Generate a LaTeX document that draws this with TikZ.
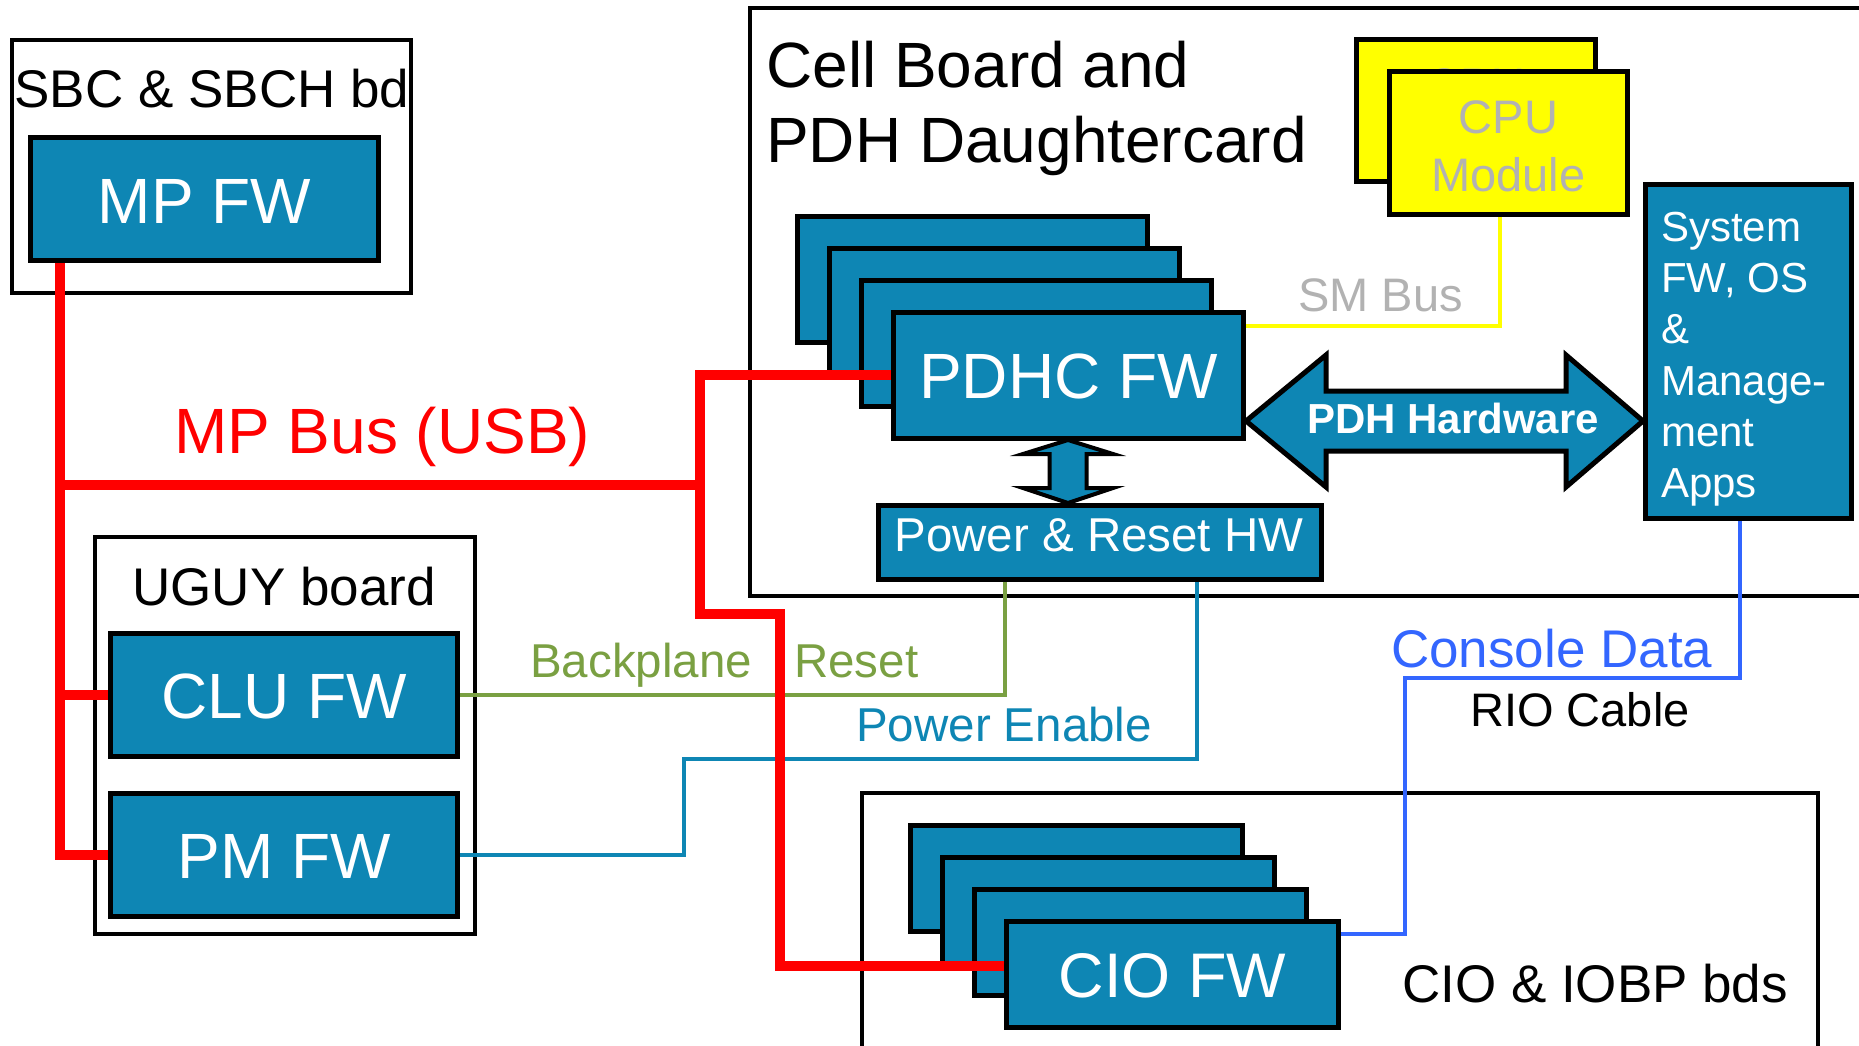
\documentclass[tikz,border=0pt]{standalone}
\usepackage{fontspec}
\setmainfont{Liberation Sans}
\definecolor{fwblue}{RGB}{14,134,180}
\definecolor{busred}{RGB}{255,0,0}
\definecolor{bpgreen}{RGB}{122,160,66}
\definecolor{conblue}{RGB}{51,102,255}
\definecolor{cpugray}{RGB}{178,178,178}
\definecolor{cpuyellow}{RGB}{255,255,0}
\newcommand{\pxfont}[1]{\fontsize{#1pt}{#1pt}\selectfont}
\begin{document}
\begin{tikzpicture}[x=1pt,y=-1pt,
  board/.style={draw=black, line width=4pt, fill=white, inner sep=0pt},
  fwbox/.style={draw=black, line width=5pt, fill=fwblue, inner sep=0pt},
  cpubox/.style={draw=black, line width=5pt, fill=cpuyellow, inner sep=0pt},
  txt/.style={inner sep=0pt, anchor=base},
  txtw/.style={inner sep=0pt, anchor=base west},
  redbus/.style={draw=busred, line width=10pt},
  greenline/.style={draw=bpgreen, line width=4pt},
  peline/.style={draw=fwblue, line width=4pt},
  smline/.style={draw=cpuyellow, line width=4.5pt},
  conline/.style={draw=conblue, line width=4pt},
  bigarrow/.style={draw=black, fill=fwblue, line join=miter}
]
\useasboundingbox (0,0) rectangle (1859,1045);
\fill[white] (0,0) rectangle (1859,1045);

% boards
\node[board, minimum width=399pt, minimum height=253pt] (sbc) at (211.5,166.5) {};
\node[board, minimum width=380pt, minimum height=396.5pt] (uguy) at (284.5,735.25) {};
\node[board, minimum width=1120pt, minimum height=588pt] (cell) at (1310,302) {};
\node[board, minimum width=956pt, minimum height=267pt] (ciobd) at (1340,926.5) {};

% SBC
\node[fwbox, minimum width=348pt, minimum height=123pt] (mpfw) at (204.5,199) {};
\node[txt, font=\pxfont{53}] (sbct) at (212,107) {SBC \& SBCH bd};
\node[txt, font=\pxfont{64}, text=white] (mpfwt) at (204.5,223) {MP FW};

% UGUY
\node[fwbox, minimum width=347pt, minimum height=123pt] (clu) at (284,695) {};
\node[fwbox, minimum width=347pt, minimum height=123pt] (pm) at (284,855) {};
\node[txt, font=\pxfont{53}] (uguyt) at (284,605) {UGUY board};
\node[txt, font=\pxfont{64}, text=white] (clut) at (284,718) {CLU FW};
\node[txt, font=\pxfont{64}, text=white] (pmt) at (284,878) {PM FW};

% Cell board
\node[txtw, font=\pxfont{64}] (celltitle1) at (766,87) {Cell Board and};
\node[txtw, font=\pxfont{64}] (celltitle2) at (766,162) {PDH Daughtercard};

\node[fwbox, minimum width=350pt, minimum height=126.5pt] (pdhcb1) at (972.5,279.25) {};
\node[fwbox, minimum width=350pt, minimum height=126.5pt] (pdhcb2) at (1004.5,311.25) {};
\node[fwbox, minimum width=350pt, minimum height=126.5pt] (pdhcb3) at (1036.5,343.25) {};
\node[fwbox, minimum width=350pt, minimum height=126.5pt] (pdhc) at (1068.5,375.25) {};
\node[txt, font=\pxfont{64}, text=white] (pdhct) at (1068.5,398) {PDHC FW};

\node[fwbox, minimum width=443pt, minimum height=74pt] (pr) at (1100,542.5) {};
\node[txt, font=\pxfont{47.5}, text=white] (prt) at (1099,551) {Power \& Reset HW};

\draw[bigarrow, line width=4pt] (1068,440) -- (1113,454) -- (1086.5,454) -- (1086.5,488) -- (1113,488) -- (1068,503) -- (1023,488) -- (1049.5,488) -- (1049.5,454) -- (1023,454) -- cycle;

% CPU modules (the back card's label is hidden by the front card but for its top edge)
\node[cpubox, minimum width=239pt, minimum height=142pt] (cpub) at (1476,110.5) {};
\begin{scope}
\clip (1360,40) rectangle (1595,69);
\node[txt, font=\pxfont{47}, text=cpugray] (cpubt1) at (1476,101) {CPU};
\end{scope}
\node[cpubox, minimum width=238pt, minimum height=143pt] (cpu) at (1508.5,143) {};
\node[txt, font=\pxfont{47}, text=cpugray] (cput1) at (1508.5,133) {CPU};
\node[txt, font=\pxfont{47}, text=cpugray] (cput2) at (1508.5,191) {Module};

% System FW
\node[fwbox, minimum width=206pt, minimum height=334pt] (sysfw) at (1748.5,351.5) {};
\node[txtw, font=\pxfont{42}, text=white] (sys1) at (1661,241) {System};
\node[txtw, font=\pxfont{42}, text=white] (sys2) at (1661,292) {FW, OS};
\node[txtw, font=\pxfont{42}, text=white] (sys3) at (1661,343) {\&};
\node[txtw, font=\pxfont{42}, text=white] (sys4) at (1661,395) {Manage-};
\node[txtw, font=\pxfont{42}, text=white] (sys5) at (1661,446) {ment};
\node[txtw, font=\pxfont{42}, text=white] (sys6) at (1661,497) {Apps};

% PDH hardware arrow
\draw[bigarrow, line width=5pt] (1246,421) -- (1326,355) -- (1326,391) -- (1566,391) -- (1566,355) -- (1643,421) -- (1566,487) -- (1566,451) -- (1326,451) -- (1326,487) -- cycle;
\node[txt, font=\bfseries\pxfont{42}, text=white] (pdhhw) at (1453,433) {PDH Hardware};

% CIO stack
\node[fwbox, minimum width=332pt, minimum height=106pt] (ciob1) at (1076.5,878.5) {};
\node[fwbox, minimum width=332pt, minimum height=106pt] (ciob2) at (1108.5,910.5) {};
\node[fwbox, minimum width=332pt, minimum height=106pt] (ciob3) at (1140.5,942.5) {};
\node[fwbox, minimum width=332pt, minimum height=106pt] (ciofw) at (1172.5,974.5) {};
\node[txt, font=\pxfont{63}, text=white] (ciot) at (1172.5,997) {CIO FW};
\node[txt, font=\pxfont{53}] (ciobdt) at (1595,1002) {CIO \& IOBP bds};

% coordinates
\coordinate (bpx) at (1005,0);
\coordinate (pe1) at (684,759);
\coordinate (pe2) at (1197,759);
\coordinate (sm) at (1500,326);
\coordinate (cd1) at (1740,678);
\coordinate (cd2) at (1405,934);
\coordinate (lx) at (60,485);
\coordinate (rj) at (699.5,485);
\coordinate (rk) at (780,614);
\coordinate (rc) at (0,966);

% thin connectors
\draw[greenline] (clu.east) -| (bpx |- pr.south);
\draw[peline] (pm.east) -| (pe1) -- (pe2) -- (pe2 |- pr.south);
\draw[smline] (cpu.south -| sm) |- (pdhc.east |- sm);
\draw[conline] (sysfw.south -| cd1) -- (cd1) -| (cd2) -- (ciofw.east |- cd2);

% red MP bus
\draw[redbus] (mpfw.south -| lx) -- (lx |- pm.west) -- (pm.west);
\draw[redbus] (lx |- clu.west) -- (clu.west);
\draw[redbus] (lx) -- (rj);
\draw[redbus] (pdhc.west) -| (rj |- rk) -- (rk) -- (rk |- rc) -- (ciofw.west |- rc);

% labels
\node[txtw, font=\pxfont{64}, text=busred] (mpbus) at (174,453) {MP Bus (USB)};
\node[txtw, font=\pxfont{47.5}, text=bpgreen] (bpt1) at (530,677) {Backplane};
\node[txtw, font=\pxfont{47.5}, text=bpgreen] (bpt2) at (794,677) {Reset};
\node[txtw, font=\pxfont{47.5}, text=fwblue] (pet) at (856,741) {Power Enable};
\node[txtw, font=\pxfont{47}, text=cpugray] (smt) at (1298,311) {SM Bus};
\node[txtw, font=\pxfont{53}, text=conblue] (cdt) at (1391,667) {Console Data};
\node[txt, font=\pxfont{47}] (rio) at (1580,726) {RIO Cable};
\end{tikzpicture}
\end{document}
